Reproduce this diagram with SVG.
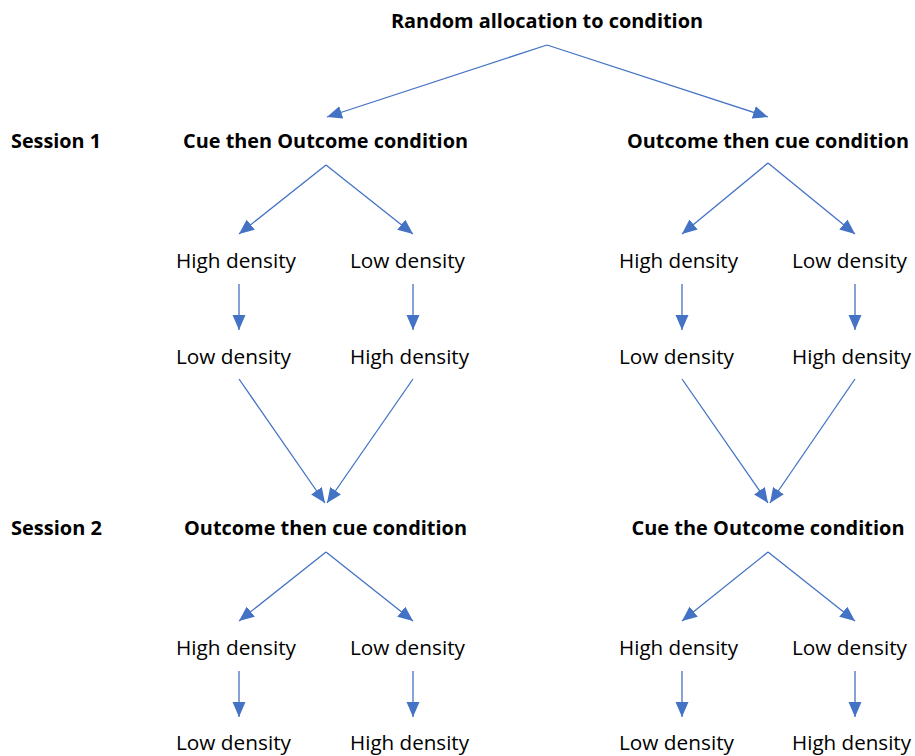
<svg xmlns="http://www.w3.org/2000/svg" width="915" height="756" viewBox="0 0 915 756">
  <style>
    text { font-family: "Open Sans", "Noto Sans", "Liberation Sans", sans-serif; fill: #000; text-anchor: middle; }
    .b { font-weight: bold; font-size: 20px; }
    .r { font-size: 20px; }
    .c { fill: none; stroke: #4472C4; stroke-width: 1.3; marker-end: url(#head); }
  </style>
  <defs>
    <marker id="head" markerUnits="userSpaceOnUse" markerWidth="16" markerHeight="14" refX="15" refY="6.5" orient="auto">
      <path d="M0,0 L15,6.5 L0,13 z" fill="#4472C4"/>
    </marker>
  </defs>

  <g id="connectors">
    <!-- allocation split -->
    <line class="c" x1="547" y1="45" x2="327" y2="117"/>
    <line class="c" x1="547" y1="45" x2="768" y2="117"/>
    <!-- session 1, left condition -->
    <line class="c" x1="326" y1="165" x2="239" y2="234"/>
    <line class="c" x1="326" y1="165" x2="413" y2="234"/>
    <line class="c" x1="239" y1="284" x2="239" y2="330"/>
    <line class="c" x1="413" y1="284" x2="413" y2="330"/>
    <line class="c" x1="239" y1="379" x2="325" y2="503"/>
    <line class="c" x1="413" y1="379" x2="327" y2="503"/>
    <!-- session 1, right condition -->
    <line class="c" x1="768" y1="163" x2="682" y2="234"/>
    <line class="c" x1="768" y1="163" x2="855" y2="234"/>
    <line class="c" x1="682" y1="284" x2="682" y2="330"/>
    <line class="c" x1="855" y1="284" x2="855" y2="330"/>
    <line class="c" x1="682" y1="379" x2="768" y2="503"/>
    <line class="c" x1="855" y1="379" x2="770" y2="503"/>
    <!-- session 2, left condition -->
    <line class="c" x1="326" y1="552" x2="239" y2="621"/>
    <line class="c" x1="326" y1="552" x2="413" y2="621"/>
    <line class="c" x1="239" y1="671" x2="239" y2="717"/>
    <line class="c" x1="413" y1="671" x2="413" y2="717"/>
    <!-- session 2, right condition -->
    <line class="c" x1="768" y1="552" x2="682" y2="621"/>
    <line class="c" x1="768" y1="552" x2="855" y2="621"/>
    <line class="c" x1="682" y1="671" x2="682" y2="717"/>
    <line class="c" x1="855" y1="671" x2="855" y2="717"/>
  </g>

  <g id="allocation"><text class="b" x="547" y="28" textLength="312" lengthAdjust="spacingAndGlyphs">Random allocation to condition</text></g>

  <g id="session1-label"><text class="b" x="56" y="148" textLength="90" lengthAdjust="spacingAndGlyphs">Session 1</text></g>
  <g id="s1-cue-outcome"><text class="b" x="325.5" y="148" textLength="285" lengthAdjust="spacingAndGlyphs">Cue then Outcome condition</text></g>
  <g id="s1-outcome-cue"><text class="b" x="768" y="148" textLength="282" lengthAdjust="spacingAndGlyphs">Outcome then cue condition</text></g>

  <g id="s1-l-high"><text class="r" x="236" y="268" textLength="120" lengthAdjust="spacingAndGlyphs">High density</text></g>
  <g id="s1-l-low"><text class="r" x="407.5" y="268" textLength="115" lengthAdjust="spacingAndGlyphs">Low density</text></g>
  <g id="s1-l-low2"><text class="r" x="233.5" y="364" textLength="115" lengthAdjust="spacingAndGlyphs">Low density</text></g>
  <g id="s1-l-high2"><text class="r" x="409.5" y="364" textLength="119" lengthAdjust="spacingAndGlyphs">High density</text></g>

  <g id="s1-r-high"><text class="r" x="678.5" y="268" textLength="119" lengthAdjust="spacingAndGlyphs">High density</text></g>
  <g id="s1-r-low"><text class="r" x="849.5" y="268" textLength="115" lengthAdjust="spacingAndGlyphs">Low density</text></g>
  <g id="s1-r-low2"><text class="r" x="676.5" y="364" textLength="115" lengthAdjust="spacingAndGlyphs">Low density</text></g>
  <g id="s1-r-high2"><text class="r" x="851.5" y="364" textLength="119" lengthAdjust="spacingAndGlyphs">High density</text></g>

  <g id="session2-label"><text class="b" x="56.5" y="535" textLength="91" lengthAdjust="spacingAndGlyphs">Session 2</text></g>
  <g id="s2-outcome-cue"><text class="b" x="325.5" y="535" textLength="283" lengthAdjust="spacingAndGlyphs">Outcome then cue condition</text></g>
  <g id="s2-cue-outcome"><text class="b" x="768" y="535" textLength="273" lengthAdjust="spacingAndGlyphs">Cue the Outcome condition</text></g>

  <g id="s2-l-high"><text class="r" x="236" y="655" textLength="120" lengthAdjust="spacingAndGlyphs">High density</text></g>
  <g id="s2-l-low"><text class="r" x="407.5" y="655" textLength="115" lengthAdjust="spacingAndGlyphs">Low density</text></g>
  <g id="s2-l-low2"><text class="r" x="233.5" y="750" textLength="115" lengthAdjust="spacingAndGlyphs">Low density</text></g>
  <g id="s2-l-high2"><text class="r" x="409.5" y="750" textLength="119" lengthAdjust="spacingAndGlyphs">High density</text></g>

  <g id="s2-r-high"><text class="r" x="678.5" y="655" textLength="119" lengthAdjust="spacingAndGlyphs">High density</text></g>
  <g id="s2-r-low"><text class="r" x="849.5" y="655" textLength="115" lengthAdjust="spacingAndGlyphs">Low density</text></g>
  <g id="s2-r-low2"><text class="r" x="676.5" y="750" textLength="115" lengthAdjust="spacingAndGlyphs">Low density</text></g>
  <g id="s2-r-high2"><text class="r" x="851.5" y="750" textLength="119" lengthAdjust="spacingAndGlyphs">High density</text></g>
</svg>
